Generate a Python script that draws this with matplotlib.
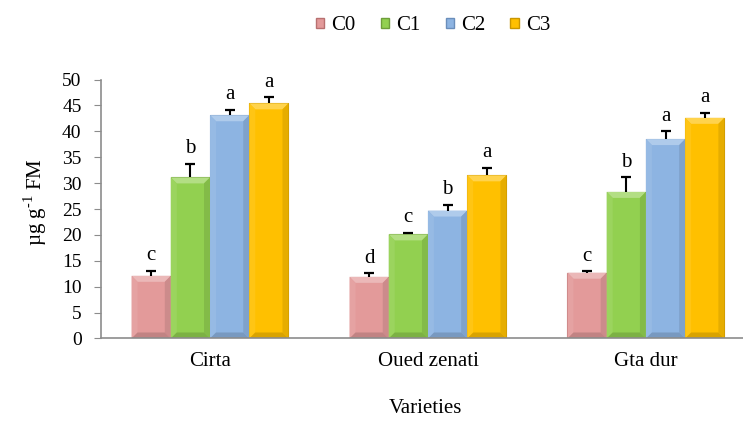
import numpy as np
import matplotlib
matplotlib.use("Agg")
import matplotlib.pyplot as plt
from matplotlib.patches import Polygon, Patch
from matplotlib.colors import to_rgb

plt.rcParams['font.family'] = ['Liberation Serif', 'DejaVu Serif']
plt.rcParams['mathtext.fontset'] = 'custom'
plt.rcParams['mathtext.rm'] = 'Liberation Serif'

varieties = ['Cirta', 'Oued zenati', 'Gta dur']
treatments = ['C0', 'C1', 'C2', 'C3']

# means (µg g-1 FM) per treatment, one value per variety
c0 = [12.1, 11.9, 12.7]
c1 = [31.1, 20.1, 28.3]
c2 = [43.1, 24.7, 38.5]
c3 = [45.4, 31.5, 42.6]

# standard errors
c0_err = [1.0, 0.7, 0.3]
c1_err = [2.6, 0.3, 2.8]
c2_err = [1.1, 1.1, 1.5]
c3_err = [1.2, 1.5, 1.0]

# letters from the mean comparison test
c0_sig = ['c', 'd', 'c']
c1_sig = ['b', 'c', 'b']
c2_sig = ['a', 'b', 'a']
c3_sig = ['a', 'a', 'a']

means = [c0, c1, c2, c3]
errs = [c0_err, c1_err, c2_err, c3_err]
sigs = [c0_sig, c1_sig, c2_sig, c3_sig]

colors = ['#E39A9A', '#92D050', '#8DB4E2', '#FFC000']
edges = ['#B87070', '#6E9E3A', '#6A8EBB', '#C99600']


def shade(c, amount):
    # amount > 0 lightens towards white, < 0 darkens towards black
    r = np.array(to_rgb(c))
    if amount > 0:
        return tuple(r + (1 - r) * amount)
    return tuple(r * (1 + amount))


fig = plt.figure(figsize=(7.43, 4.30), dpi=100)
ax = fig.add_axes([0.136, 0.2128, 0.880, 0.6023])

x = np.arange(len(varieties))
width = 0.18

ax.set_xlim(-0.5, 2.5)
ax.set_ylim(0, 50)

pos = ax.get_position()
px_x = pos.width * 743 / 3.0
px_y = pos.height * 430 / 50.0
dx = 6 / px_x
dy = 6 / px_y

for i in range(len(treatments)):
    xs = x + (i - 1.5) * width
    m = np.array(means[i])
    e = np.array(errs[i])
    bars = ax.bar(xs, m, width, color=colors[i], edgecolor=edges[i],
                  linewidth=0.8, zorder=2, label=treatments[i])
    # bevelled look on each bar
    for rect in bars:
        x0, y0 = rect.get_x(), rect.get_y()
        x1, y1 = x0 + rect.get_width(), y0 + rect.get_height()
        faces = [
            ([(x0, y1), (x1, y1), (x1 - dx, y1 - dy), (x0 + dx, y1 - dy)], 0.3),
            ([(x0, y0), (x0, y1), (x0 + dx, y1 - dy), (x0 + dx, y0 + dy)], 0.08),
            ([(x1, y0), (x1, y1), (x1 - dx, y1 - dy), (x1 - dx, y0 + dy)], -0.1),
            ([(x0, y0), (x1, y0), (x1 - dx, y0 + dy), (x0 + dx, y0 + dy)], -0.15),
        ]
        for pts, amt in faces:
            ax.add_patch(Polygon(pts, closed=True, facecolor=shade(colors[i], amt),
                                 edgecolor='none', zorder=2.5))
    # upper error bars only
    ax.vlines(xs, m, m + e, color='black', linewidth=1.5, zorder=3)
    ax.plot(xs, m + e, linestyle='none', marker='_', markersize=7,
            markeredgewidth=1.6, color='black', zorder=3)
    for xi, top, s in zip(xs, m + e, sigs[i]):
        ax.annotate(s, (xi, top), xytext=(0, 4), textcoords='offset points',
                    ha='center', va='bottom', fontsize=15)

ax.set_yticks(np.arange(0, 51, 5))
ax.tick_params(axis='y', labelsize=14, length=5, color='#8C8C8C', pad=9)
ax.set_xticks(x)
ax.set_xticklabels(varieties, fontsize=15)
ax.tick_params(axis='x', length=0, pad=10)

for side in ['top', 'right']:
    ax.spines[side].set_visible(False)
for side in ['left', 'bottom']:
    ax.spines[side].set_color('#8C8C8C')
    ax.spines[side].set_linewidth(1.2)

fig.text(0.047, 0.53, 'µg g$^{\u20101}$ FM', rotation=90, ha='center',
         va='center', fontsize=15)
fig.text(0.572, 0.051, 'Varieties', ha='center', va='center', fontsize=15)

handles = [Patch(facecolor=colors[i], edgecolor=edges[i], label=treatments[i])
           for i in range(len(treatments))]
fig.legend(handles=handles, loc='center', bbox_to_anchor=(0.583, 0.94), ncol=4,
           frameon=False, fontsize=15, handlelength=0.4, handleheight=0.4,
           handletextpad=0.35, columnspacing=1.2)

fig.savefig('out.png', dpi=100)
